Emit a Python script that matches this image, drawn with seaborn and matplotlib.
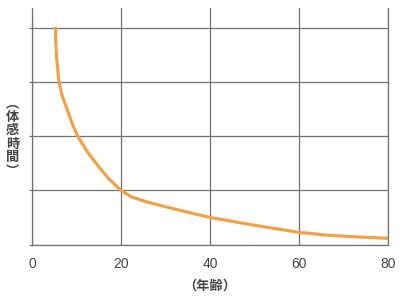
import matplotlib
matplotlib.use("Agg")
import matplotlib.pyplot as plt
import seaborn as sns
import pandas as pd

# Data
age = [5.3, 5.3, 5.55, 6.07, 6.8, 7.8, 9.15, 10.3, 12.4, 14.7, 17.2, 20.0,
       22.4, 26.1, 33.6, 40.0, 49.0, 55.0, 60.0, 66.0, 71.7, 80.0]
feel = [4.0, 3.81, 3.44, 3.0, 2.75, 2.52, 2.21, 2.0, 1.72, 1.47, 1.22, 1.0,
        0.88, 0.78, 0.625, 0.50, 0.37, 0.29, 0.225, 0.175, 0.145, 0.115]
x_ticks = [0, 20, 40, 60, 80]
y_grid = [0, 1, 2, 3, 4]
x_label = "（年齢）"
y_label = "︵\n体\n感\n時\n間\n︶"

df = pd.DataFrame({"age": age, "feel": feel})

sns.set_style("white")
plt.rcParams["font.family"] = ["Liberation Sans", "Noto Sans CJK JP", "DejaVu Sans"]

grid_c = "#727272"
text_c = "#444444"

fig = plt.figure(figsize=(4.0, 2.98), dpi=100)
ax = fig.add_axes([32 / 400, 1 - 244.5 / 298, (388 - 32) / 400, (244.5 - 8) / 298])

sns.lineplot(data=df, x="age", y="feel", ax=ax, color="#EFA24A", linewidth=2.3,
             sort=False, estimator=None)
ax.lines[0].set_solid_joinstyle("round")

ax.set_xlim(0, 80)
ax.set_ylim(0, 4.375)
ax.set_xticks(x_ticks)
ax.set_xticklabels([str(t) for t in x_ticks])
ax.set_yticks(y_grid)
ax.set_yticklabels([])
ax.grid(True, color=grid_c, linewidth=0.9)
ax.set_axisbelow(True)

ax.spines["top"].set_visible(False)
for side in ["left", "right", "bottom"]:
    ax.spines[side].set_color(grid_c)
    ax.spines[side].set_linewidth(0.9)

ax.tick_params(axis="x", length=0, pad=9, labelsize=10, labelcolor=text_c)
ax.tick_params(axis="y", left=True, length=2, width=0.9, color=grid_c, pad=0)

ax.set_xlabel(x_label, family=["Noto Sans CJK JP"], fontsize=9.5, fontweight="bold",
              color=text_c)
ax.xaxis.set_label_coords((209.5 - 32) / (388 - 32), -(286 - 244.5) / (244.5 - 8), transform=ax.transAxes)
ax.xaxis.label.set_va("center")

ax.set_ylabel(y_label, family=["Noto Sans CJK JP"], fontsize=9.5, fontweight="bold",
              color=text_c, rotation=0, linespacing=0.95, va="center", ha="center")
ax.yaxis.set_label_coords(-(32 - 12.5) / (388 - 32), (244.5 - 137) / (244.5 - 8), transform=ax.transAxes)

fig.savefig("out.png", dpi=100)
